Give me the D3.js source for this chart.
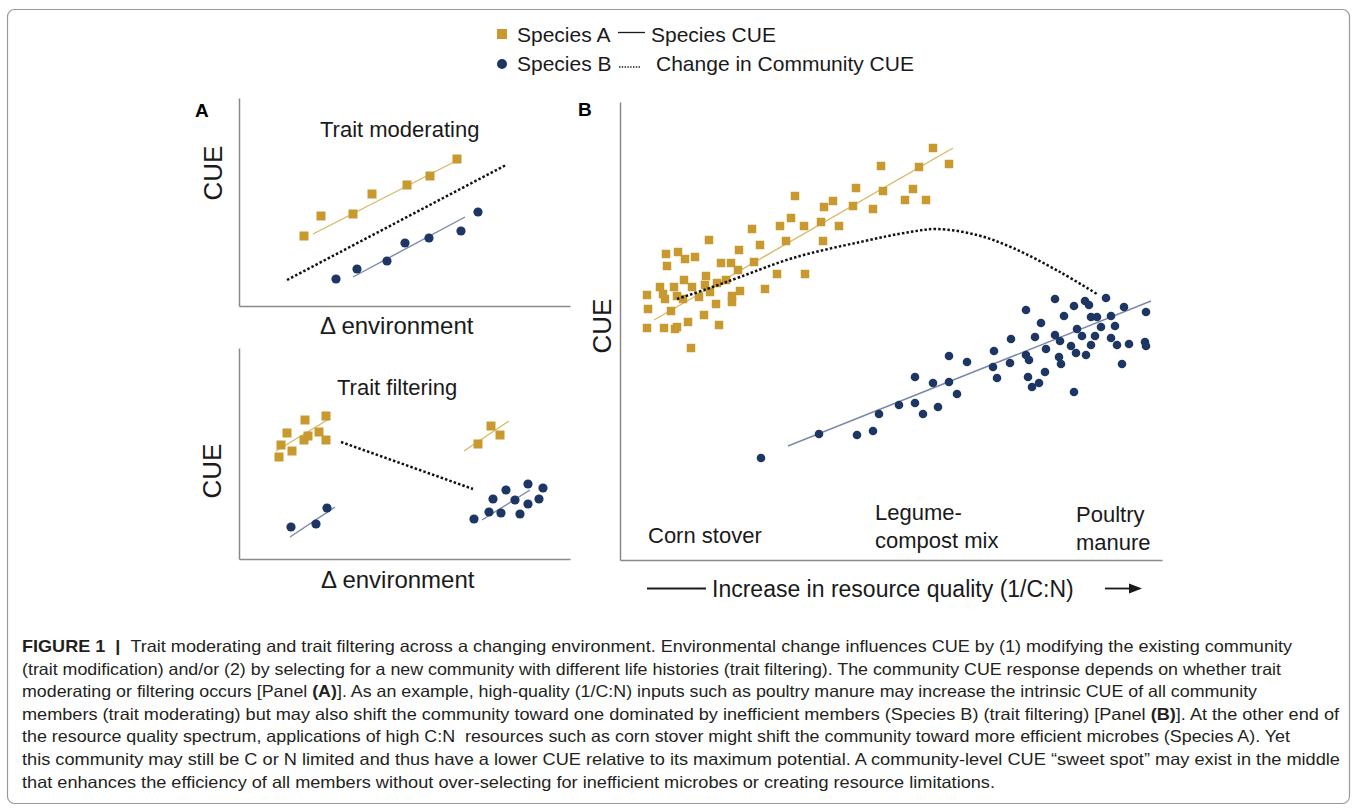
<!DOCTYPE html>
<html>
<head>
<meta charset="utf-8">
<script src="https://cdn.jsdelivr.net/npm/d3@7"></script>
<style>
  body { margin: 0; background: #fff; }
  svg { display: block; font-family: "Liberation Sans", Arial, sans-serif; }
  text { white-space: pre; }
</style>
</head>
<body>
<svg id="fig" width="1358" height="812"></svg>
<script>

// Panel A, trait moderating
const modSpeciesA = [[65,70],[82,90],[114,92],[133,112],[168,121],[191,130],[218,147]];
const modSpeciesB = [[97,27],[118,37],[148,45],[166,63],[190,68],[222,75],[239,94]];
const modFitA = [[74,72],[217,145]];
const modFitB = [[114,29],[226,89]];
const modCommunity = [[48,26],[267,141]];

// Panel A, trait filtering
const filtSpeciesA = [[40,102],[42,114],[48,126],[53,108],[66,139],[65,119],[69,123],[80,127],[87,143],[87,119],
                      [239,115],[252,133],[261,124]];
const filtSpeciesB = [[52,32],[77,35],[88,51],
                      [235,40],[250,47],[262,46],[281,45],[254,60],[276,59],[267,69],[289,55],[300,60],[289,75],[304,71]];
const filtFitA = [[[37,108],[90,140]], [[225,108],[270,138]]];
const filtFitB = [[[51,22],[96,52]], [[243,39],[291,69]]];
const filtCommunity = [[102,117],[234,70]];

// Panel B, resource quality
const resSpeciesA = [[313,412],[261,394],[299,393],[329,396],[236,372],[263,369],[293,371],[175,364],[213,359],[204,353],
  [233,354],[253,351],[285,360],[306,360],[171,342],[160,334],[184,334],[201,338],[219,334],[132,331],
  [89,320],[166,319],[203,319],[140,315],[119,310],[46,306],[58,308],[65,301],[75,303],[47,294],
  [101,297],[111,297],[134,298],[118,290],[86,284],[157,286],[185,286],[64,280],[40,273],[54,273],
  [72,273],[85,275],[97,277],[106,280],[120,269],[145,271],[27,265],[43,266],[45,261],[57,264],
  [63,261],[79,263],[90,268],[112,264],[112,258],[28,251],[51,249],[84,245],[96,256],[27,232],
  [44,232],[55,231],[57,233],[68,238],[99,235],[71,212]];
const resSpeciesB = [[141,102],[199,126],[237,125],[253,129],[259,146],[279,155],[295,157],[303,146],[318,153],[295,183],
  [313,177],[329,178],[337,166],[329,204],[347,198],[374,209],[373,193],[377,182],[390,197],[391,221],
  [406,250],[406,205],[409,200],[408,183],[412,173],[419,177],[425,188],[415,223],[421,237],[426,211],
  [435,261],[435,225],[440,219],[439,203],[441,196],[444,244],[451,214],[454,254],[454,168],[456,207],
  [457,231],[462,224],[465,259],[469,255],[466,205],[471,243],[471,215],[475,224],[477,243],[481,233],
  [486,262],[491,244],[491,222],[495,234],[497,215],[502,196],[504,253],[509,216],[526,248],[525,218],[526,214]];
const resFitA = [[34,240],[333,412]];
const resFitB = [[168,114],[531,259]];
const resCommunity = [[57,261],[87,271],[120,283],[173,302],[240,318],[290,328],[317,331],[357,325],[393,312],[440,288],[477,266]];

const resourceLabels = [
  { x: 28, lines: ["Corn stover"], base: 17 },
  { x: 255, lines: ["Legume-", "compost mix"], base: 40 },
  { x: 456, lines: ["Poultry", "manure"], base: 38 }
];

const legendItems = ["Species A", "Species CUE", "Species B", "Change in Community CUE"];

const captionLines = [
  [["FIGURE 1  |  ", 1], ["Trait moderating and trait filtering across a changing environment. Environmental change influences CUE by (1) modifying the existing community", 0]],
  [["(trait modification) and/or (2) by selecting for a new community with different life histories (trait filtering). The community CUE response depends on whether trait", 0]],
  [["moderating or filtering occurs [Panel ", 0], ["(A)", 1], ["]. As an example, high-quality (1/C:N) inputs such as poultry manure may increase the intrinsic CUE of all community", 0]],
  [["members (trait moderating) but may also shift the community toward one dominated by inefficient members (Species B) (trait filtering) [Panel ", 0], ["(B)", 1], ["]. At the other end of", 0]],
  [["the resource quality spectrum, applications of high C:N  resources such as corn stover might shift the community toward more efficient microbes (Species A). Yet", 0]],
  [["this community may still be C or N limited and thus have a lower CUE relative to its maximum potential. A community-level CUE \u201csweet spot\u201d may exist in the middle", 0]],
  [["that enhances the efficiency of all members without over-selecting for inefficient microbes or creating resource limitations.", 0]]
];
const captionEnds = [1292, 1281, 1257, 1339, 1290, 1340, 995];

const gold = "#c8992f", goldLine = "#d9b866", navy = "#1d3663", navyLine = "#7a88aa", ink = "#1a1a1a";

const svg = d3.select("#fig");

// figure frame
svg.append("rect")
  .attr("x", 7.5).attr("y", 9.5).attr("width", 1342).attr("height", 794).attr("rx", 7)
  .attr("fill", "none").attr("stroke", "#9a9a9a").attr("stroke-width", 1.2);

function makePanel(p) {
  const g = svg.append("g");
  const x = d3.scaleLinear().domain([0, p.w]).range([p.x0, p.x0 + p.w]);
  const y = d3.scaleLinear().domain([0, p.h]).range([p.y0, p.y0 - p.h]);

  g.append("g").attr("transform", `translate(0,${p.y0})`)
    .call(d3.axisBottom(x).tickValues([]).tickSizeOuter(0))
    .call(a => a.select(".domain").attr("stroke", "#8a8a8a").attr("stroke-width", 1.5));
  g.append("g").attr("transform", `translate(${p.x0},0)`)
    .call(d3.axisLeft(y).tickValues([]).tickSizeOuter(0))
    .call(a => a.select(".domain").attr("stroke", "#8a8a8a").attr("stroke-width", 1.5));

  return { g, x, y };
}

function drawLine(P, pts, color, width, dash, curve) {
  const line = d3.line().x(d => P.x(d[0])).y(d => P.y(d[1]));
  if (curve) line.curve(curve);
  P.g.append("path").datum(pts)
    .attr("d", line).attr("fill", "none")
    .attr("stroke", color).attr("stroke-width", width)
    .attr("stroke-dasharray", dash || null);
}

function drawSquares(P, pts, s) {
  P.g.append("g").selectAll("rect").data(pts).join("rect")
    .attr("x", d => P.x(d[0]) - s / 2).attr("y", d => P.y(d[1]) - s / 2)
    .attr("width", s).attr("height", s).attr("fill", gold);
}

function drawDots(P, pts, r) {
  P.g.append("g").selectAll("circle").data(pts).join("circle")
    .attr("cx", d => P.x(d[0])).attr("cy", d => P.y(d[1]))
    .attr("r", r).attr("fill", navy);
}

function cueLabel(x, y) {
  svg.append("text").attr("transform", `translate(${x},${y}) rotate(-90)`)
    .attr("text-anchor", "middle").attr("font-size", 26).attr("fill", ink).text("CUE");
}

const dotted = "2.5,2.1";

// ---- Panel A top: trait moderating
const pm = makePanel({ x0: 239, y0: 306, w: 331, h: 208 });
drawLine(pm, modCommunity, "#111", 2.5, dotted);
drawLine(pm, modFitA, goldLine, 1.4);
drawLine(pm, modFitB, navyLine, 1.4);
drawSquares(pm, modSpeciesA, 9);
drawDots(pm, modSpeciesB, 4.6);
svg.append("text").attr("x", 320).attr("y", 137).attr("font-size", 22).attr("fill", ink).text("Trait moderating");
svg.append("text").attr("x", 320).attr("y", 334).attr("font-size", 24).attr("fill", ink).text("\u0394 environment");
cueLabel(222, 173);
svg.append("text").attr("x", 195).attr("y", 117).attr("font-size", 19).attr("font-weight", "bold").text("A");

// ---- Panel A bottom: trait filtering
const pf = makePanel({ x0: 239, y0: 559, w: 331, h: 211 });
drawLine(pf, filtCommunity, "#111", 2.5, dotted);
filtFitA.forEach(s => drawLine(pf, s, goldLine, 1.4));
filtFitB.forEach(s => drawLine(pf, s, navyLine, 1.4));
drawSquares(pf, filtSpeciesA, 9);
drawDots(pf, filtSpeciesB, 4.6);
svg.append("text").attr("x", 337).attr("y", 395).attr("font-size", 22).attr("fill", ink).text("Trait filtering");
svg.append("text").attr("x", 321).attr("y", 588).attr("font-size", 24).attr("fill", ink).text("\u0394 environment");
cueLabel(221, 471);

// ---- Panel B: resource quality
const pb = makePanel({ x0: 620, y0: 560, w: 542, h: 458 });
drawLine(pb, resFitA, goldLine, 1.4);
drawLine(pb, resFitB, navyLine, 1.4);
drawSquares(pb, resSpeciesA, 8.5);
drawDots(pb, resSpeciesB, 4.3);
drawLine(pb, resCommunity, "#111", 2.5, dotted, d3.curveCatmullRom);
cueLabel(611, 326);
svg.append("text").attr("x", 578).attr("y", 116).attr("font-size", 19).attr("font-weight", "bold").text("B");

resourceLabels.forEach(l => {
  l.lines.forEach((t, i) => {
    svg.append("text").attr("x", pb.x(l.x)).attr("y", pb.y(l.base) + i * 28)
      .attr("font-size", 22).attr("fill", ink).text(t);
  });
});

// x-axis caption with arrow
svg.append("line").attr("x1", 647).attr("x2", 706).attr("y1", 588.5).attr("y2", 588.5)
  .attr("stroke", ink).attr("stroke-width", 1.8);
svg.append("text").attr("x", 712).attr("y", 597).attr("font-size", 23).attr("fill", ink)
  .text("Increase in resource quality (1/C:N)");
svg.append("line").attr("x1", 1105).attr("x2", 1132).attr("y1", 588.5).attr("y2", 588.5)
  .attr("stroke", ink).attr("stroke-width", 1.8);
svg.append("path").attr("d", "M1142,588.5 L1129,583.5 L1129,593.5 Z").attr("fill", ink);

// ---- legend
const lg = svg.append("g").attr("font-size", 21).attr("fill", ink);
lg.append("rect").attr("x", 497).attr("y", 29).attr("width", 10).attr("height", 10).attr("fill", gold);
lg.append("text").attr("x", 517).attr("y", 42).text(legendItems[0]);
lg.append("line").attr("x1", 618).attr("x2", 645).attr("y1", 32.5).attr("y2", 32.5).attr("stroke", ink).attr("stroke-width", 1.3);
lg.append("text").attr("x", 651).attr("y", 42).text(legendItems[1]);
lg.append("circle").attr("cx", 502).attr("cy", 64).attr("r", 5).attr("fill", navy);
lg.append("text").attr("x", 517).attr("y", 71).text(legendItems[2]);
lg.append("line").attr("x1", 619).attr("x2", 641).attr("y1", 67).attr("y2", 67).attr("stroke", ink)
  .attr("stroke-width", 1.6).attr("stroke-dasharray", "1.4,1.4");
lg.append("text").attr("x", 656).attr("y", 71).text(legendItems[3]);

// ---- caption
const cap = svg.append("g").attr("font-size", 16.5).attr("fill", "#231f20");
captionLines.forEach((segs, i) => {
  const t = cap.append("text").attr("x", 22).attr("y", 652 + i * 22.6)
    .attr("textLength", captionEnds[i] - 22).attr("lengthAdjust", "spacingAndGlyphs");
  segs.forEach(s => t.append("tspan").attr("font-weight", s[1] ? "bold" : null).text(s[0]));
});
</script>
</body>
</html>
